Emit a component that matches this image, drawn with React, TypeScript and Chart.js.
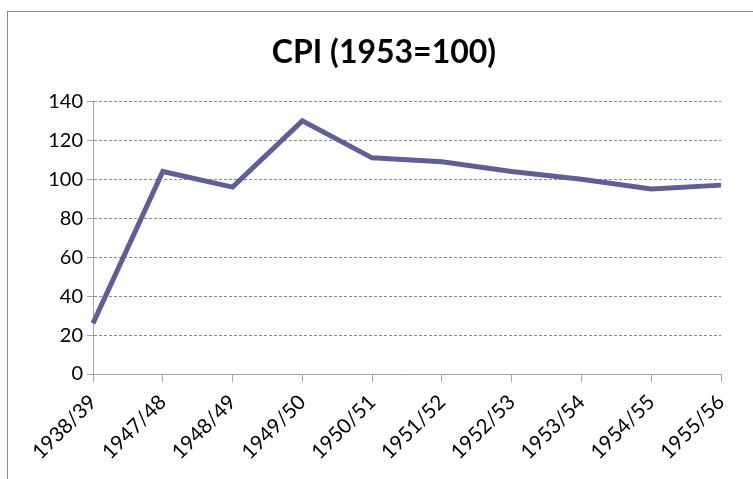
import React, { useEffect, useRef } from "react";
import { Chart, registerables } from "chart.js";

Chart.register(...registerables);

const categories = ["1938/39", "1947/48", "1948/49", "1949/50", "1950/51", "1951/52", "1952/53", "1953/54", "1954/55", "1955/56"];
const cpiValues = [26, 104, 96, 130, 111, 109, 104, 100, 95, 97];
const titleText = "CPI (1953=100)";

export default function App() {
  const ref = useRef<HTMLCanvasElement | null>(null);
  useEffect(() => {
    if (!ref.current) return;
    const font = "Lato, 'Open Sans', sans-serif";
    const chart = new Chart(ref.current, {
      type: "line",
      data: {
        labels: categories,
        datasets: [
          {
            data: cpiValues,
            borderColor: "#5f5f96",
            borderWidth: 5,
            pointRadius: 0,
            tension: 0,
            fill: false,
          },
        ],
      },
      options: {
        responsive: false,
        animation: false,
        layout: { padding: { left: 47, right: 32, top: 0, bottom: 0 } },
        plugins: {
          legend: { display: false },
          tooltip: { enabled: false },
          title: {
            display: true,
            text: titleText,
            color: "#000",
            font: { family: font, size: 32, weight: "bold" },
            padding: { top: 33, bottom: 30 },
          },
        },
        scales: {
          x: {
            offset: false,
            grid: {
              display: true,
              drawOnChartArea: false,
              drawTicks: true,
              tickLength: 8,
              color: "#a6a6a6",
              lineWidth: 1,
            },
            border: { display: true, color: "#a6a6a6", width: 1 },
            ticks: {
              color: "#000",
              font: { family: font, size: 20.5 },
              maxRotation: 45,
              minRotation: 45,
              autoSkip: false,
              padding: 8,
            },
            afterFit: (s: any) => {
              s.height = 105;
            },
          },
          y: {
            min: 0,
            max: 140,
            ticks: {
              stepSize: 20,
              color: "#000",
              font: { family: font, size: 20 },
              padding: 4,
            },
            grid: {
              color: (ctx: any) => (ctx.tick && ctx.tick.value === 0 ? "rgba(0,0,0,0)" : "#8a8a8a"),
              tickColor: "#a6a6a6",
              tickLength: 6,
              lineWidth: 1,
            },
            border: { display: true, color: "#a6a6a6", width: 1, dash: [3, 2] },
            afterFit: (s: any) => {
              s.width = 46;
            },
          },
        },
      },
    });
    return () => chart.destroy();
  }, []);

  return (
    <div style={{ position: "absolute", left: 0, top: 0, width: 753, height: 479, overflow: "hidden", background: "#fff" }}>
      <div style={{ position: "absolute", left: 7, top: 11, width: 800, height: 520, border: "1px solid #8c8c8c" }} />
      <canvas ref={ref} width={753} height={479} style={{ position: "absolute", left: 0, top: 0 }} />
    </div>
  );
}
